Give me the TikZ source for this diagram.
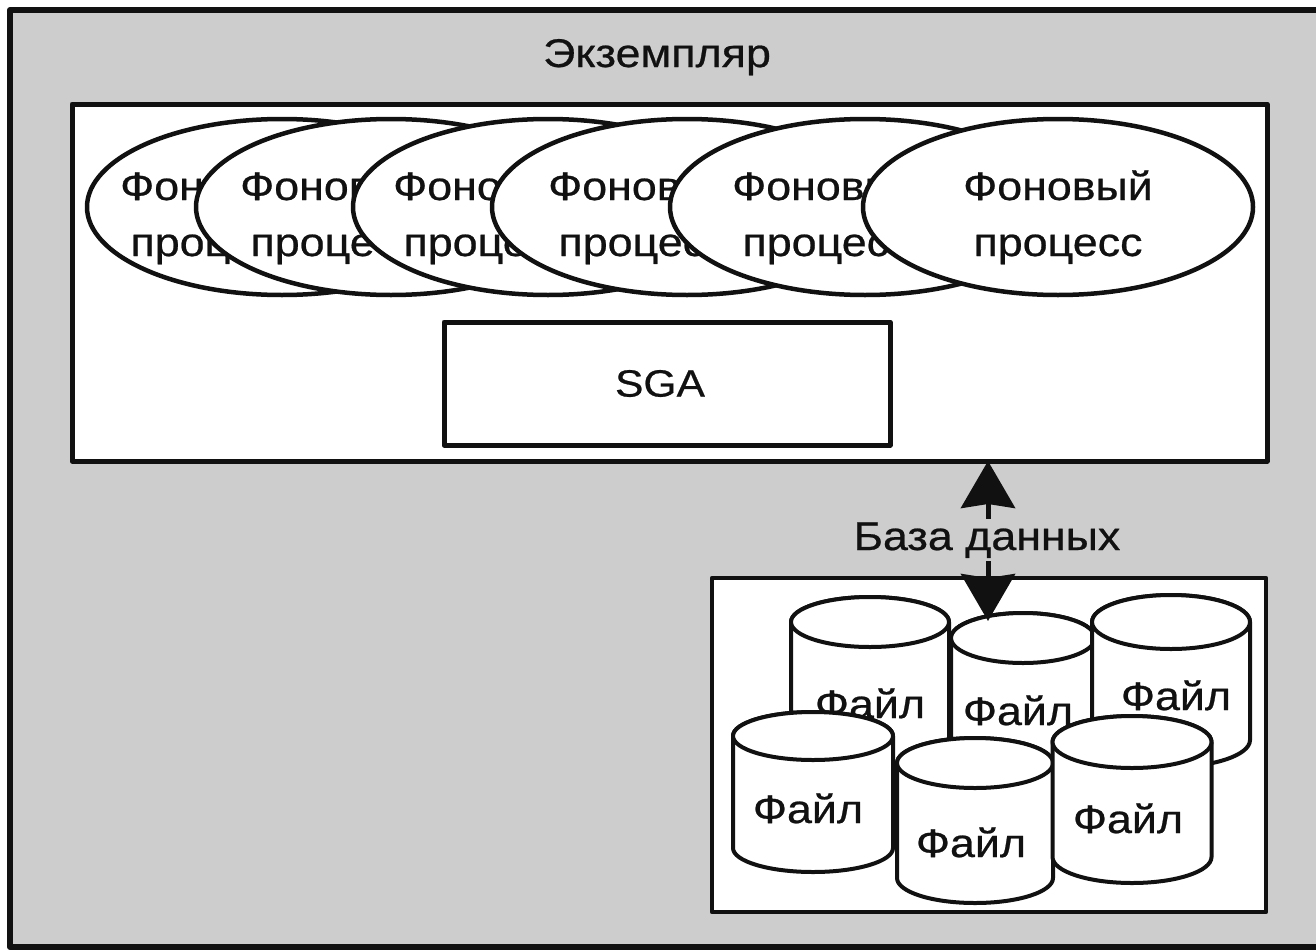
\documentclass[tikz,border=0pt]{standalone}
\usepackage{fontspec}
\setmainfont{Liberation Sans}[FakeStretch=1.12,FakeBold=0.6]
\usetikzlibrary{shapes.geometric,arrows.meta}
\definecolor{bggray}{RGB}{205,205,205}
\definecolor{ink}{RGB}{17,17,17}
\newcommand{\mycyl}[8]{%
  \filldraw[cyl] ({#2-#4},{-#3}) -- ({#2-#4},{-#6})
     arc[start angle=180,end angle=360,x radius=#4pt,y radius=#5pt]
     -- ({#2+#4},{-#3})
     arc[start angle=0,end angle=180,x radius=#4pt,y radius=#5pt] -- cycle;
  \draw[cyl] (#2,-#3) ellipse[x radius=#4pt,y radius=#5pt];
  \node[filetext] (#1) at (#7,-#8) {Файл};
}
\begin{document}
\begin{tikzpicture}[x=1pt,y=1pt,line join=round,
  lab/.style={font=\fontsize{40}{56}\selectfont, inner sep=0pt, text=ink},
  proc/.style={ellipse, draw=ink, fill=white, line width=4.5pt, minimum width=390pt, minimum height=176pt, inner sep=0pt},
  proctext/.style={lab, align=center, anchor=base},
  box/.style={draw=ink, fill=white, line width=5pt, inner sep=0pt, outer sep=0pt},
  cyl/.style={draw=ink, fill=white, line width=4pt},
  filetext/.style={lab, anchor=base},
  biarrow/.style={draw=ink, line width=5pt, {Stealth[length=47pt,width=54pt,inset=4pt]}-{Stealth[length=47pt,width=54pt,inset=4pt]}}
]
\useasboundingbox (0,0) rectangle (1316,-950);
\fill[white] (0,0) rectangle (1316,-950);
\filldraw[fill=bggray, draw=ink, line width=6pt] (10,-10) rectangle (1340,-947);

\node[lab, anchor=base] (title) at (657,-67) {Экземпляр};
\node[box, minimum width=1195pt, minimum height=357pt] (inst) at (669.5,-282.5) {};

\node[proc] (p1) at (282,-207) {};
\node[proctext] (t1) at (215,-256) {Фоновый\\процесс};
\node[proc] (p2) at (391,-207) {};
\node[proctext] (t2) at (335,-256) {Фоновый\\процесс};
\node[proc] (p3) at (548,-207) {};
\node[proctext] (t3) at (488,-256) {Фоновый\\процесс};
\node[proc] (p4) at (687,-207) {};
\node[proctext] (t4) at (643,-256) {Фоновый\\процесс};
\node[proc] (p5) at (865,-207) {};
\node[proctext] (t5) at (827,-256) {Фоновый\\процесс};
\node[proc] (p6) at (1058,-207) {};
\node[proctext] (t6) at (1058,-256) {Фоновый\\процесс};

\node[box, minimum width=446pt, minimum height=123pt] (sga) at (667,-383.5) {};
\node[lab, font=\fontsize{38}{44}\selectfont] (sgatext) at (660,-383.5) {SGA};

\node[box, line width=4.5pt, minimum width=554pt, minimum height=334pt] (db) at (989,-745) {};

\mycyl{f1}{870}{622}{79}{25}{740}{870}{718}
\mycyl{f2}{1023}{638}{72}{25}{755}{1018}{725}
\mycyl{f3}{1171}{622}{79}{27}{740}{1176}{710}
\mycyl{f4}{813}{736}{80}{24}{848}{808}{823}
\mycyl{f5}{975}{763}{78}{25}{878}{971}{857}
\mycyl{f6}{1132}{742}{79.5}{26}{857}{1128}{833}

\coordinate (foot) at (988,-621);
\draw[biarrow] (inst.south -| foot) -- (foot);
\node[lab, anchor=base, fill=bggray, inner sep=3pt] (dblabel) at (987,-550) {База данных};
\end{tikzpicture}
\end{document}
